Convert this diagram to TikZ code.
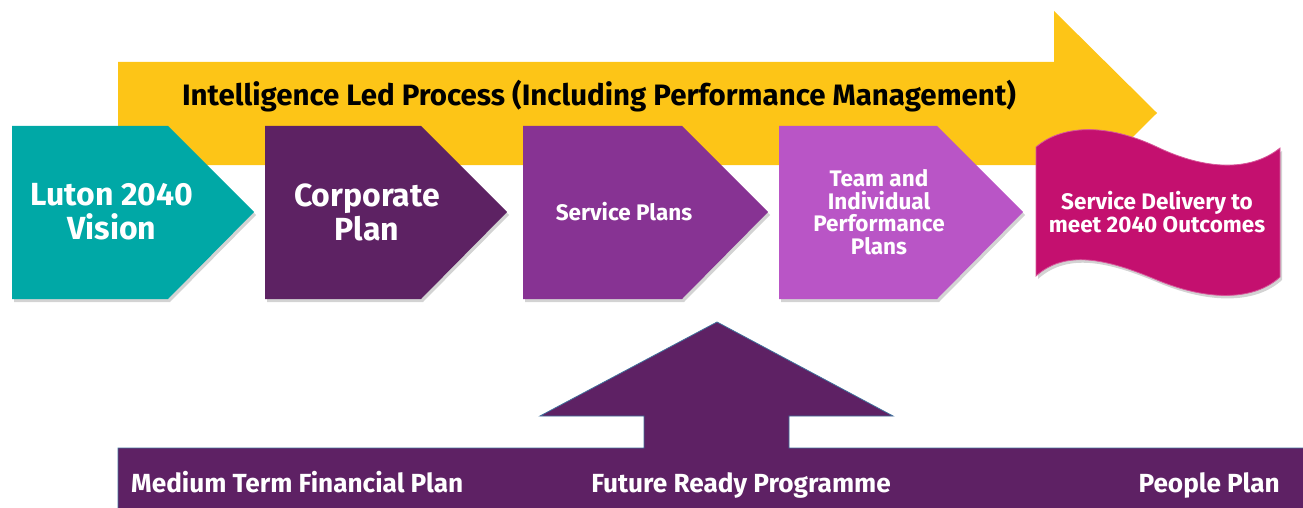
\documentclass[tikz,border=0pt]{standalone}
\usepackage{fontspec}
\setmainfont{Fira Sans}
\usetikzlibrary{positioning, shadows}

\definecolor{goldbar}{HTML}{FDC517}
\definecolor{visionteal}{HTML}{00A8A6}
\definecolor{corpplum}{HTML}{5D2263}
\definecolor{servpurple}{HTML}{873393}
\definecolor{teamorchid}{HTML}{B955C6}
\definecolor{delivmagenta}{HTML}{C4106F}
\definecolor{baseplum}{HTML}{5E2164}
\definecolor{edgeblue}{HTML}{41719C}

\begin{document}
\begin{tikzpicture}[x=1pt, y=-1pt,
	stageshape/.style={
		drop shadow={opacity=0.35, shadow xshift=2pt, shadow yshift=-3pt},
		line width=0.8pt
	},
	bigtext/.style={
		text=white, align=center,
		font=\bfseries\fontsize{32}{34}\selectfont
	},
	smalltext/.style={
		text=white, align=center,
		font=\bfseries\fontsize{22.5}{22.5}\selectfont
	},
	bandtext/.style={
		text=white, inner sep=0pt,
		font=\bfseries\fontsize{26.2}{30}\selectfont
	},
	]
	\useasboundingbox (0,0) rectangle (1303,508);

	%process arrow
	\fill[goldbar] (118,62) -- (1054,62) -- (1054,11) -- (1157,113)
		-- (1054,215) -- (1054,165) -- (118,165) -- cycle;
	\node[anchor=base, inner sep=0pt, font=\bfseries\fontsize{29.5}{30}\selectfont] (process) at (599,106)
		{Intelligence Led Process (Including Performance Management)};

	%stages
	\fill[visionteal, stageshape] (12,126) -- (168,126) -- (254,212) -- (168,299) -- (12,299) -- cycle;
	\node[bigtext] (vision) at (112,212) {Luton 2040\\Vision};

	\fill[corpplum, stageshape] (265,126) -- (421,126) -- (507,212) -- (421,299) -- (265,299) -- cycle;
	\node[bigtext] (corporate) at (367,212) {Corporate\\Plan};

	\fill[servpurple, stageshape] (523,126) -- (682,126) -- (768,212) -- (682,299) -- (523,299) -- cycle;
	\node[smalltext] (service) at (624,212) {Service Plans};

	\fill[teamorchid, stageshape] (779,126) -- (937,126) -- (1023,212) -- (937,299) -- (779,299) -- cycle;
	\node[smalltext] (team) at (879,212) {Team and\\Individual\\Performance\\Plans};

	%outcome banner
	\filldraw[delivmagenta, draw=delivmagenta!70!white, stageshape]
		(1036,147) .. controls (1058,128) and (1100,120) .. (1157,147)
		.. controls (1205,170) and (1250,172) .. (1280,148)
		-- (1280,277) .. controls (1255,300) and (1210,302) .. (1157,280)
		.. controls (1105,258) and (1065,250) .. (1036,276) -- cycle;
	\node[smalltext] (delivery) at (1157,212) {Service Delivery to\\meet 2040 Outcomes};

	%enabling programmes
	\filldraw[baseplum, draw=edgeblue, line width=0.8pt]
		(118,510) -- (118,448) -- (644,448) -- (644,416) -- (540,416) -- (717,322)
		-- (893,416) -- (789,416) -- (789,448) -- (1305,448) -- (1305,510) -- cycle;
	\node[bandtext, anchor=base west] (finance) at (131,492) {Medium Term Financial Plan};
	\node[bandtext, anchor=base] (future) at (741,492) {Future Ready Programme};
	\node[bandtext, anchor=base east] (people) at (1280,492) {People Plan};
\end{tikzpicture}
\end{document}
